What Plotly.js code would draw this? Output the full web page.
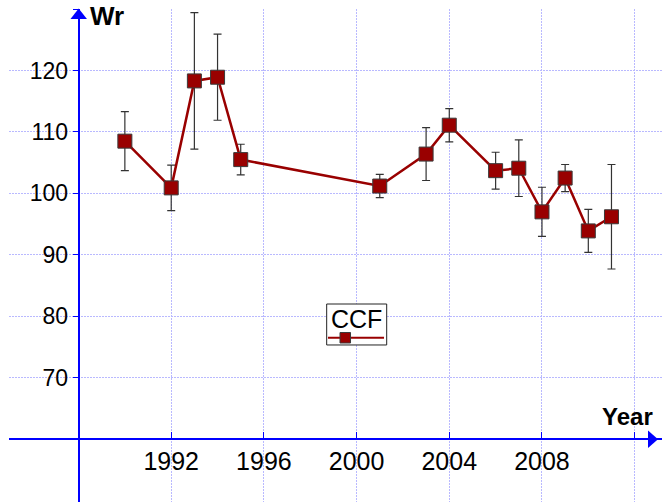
<!DOCTYPE html>
<html>
<head>
<meta charset="utf-8">
<script src="https://cdn.plot.ly/plotly-3.0.1.min.js"></script>
<style>html,body{margin:0;padding:0;background:#fff;}#chart{width:662px;height:502px;}</style>
</head>
<body>
<div id="chart"></div>
<script>
// Data
var years = [1990, 1992, 1993, 1994, 1995, 2001, 2003, 2004, 2006, 2007, 2008, 2009, 2010, 2011];
var wr    = [108.5, 100.9, 118.3, 118.9, 105.5, 101.2, 106.4, 111.1, 103.7, 104.1, 97.0, 102.5, 93.9, 96.2];
var wrErr = [4.8, 3.7, 11.1, 7.0, 2.5, 1.9, 4.3, 2.7, 3.0, 4.6, 4.0, 2.2, 3.5, 8.5];
var seriesName = 'CCF';

var xTickVals = [1988, 1992, 1996, 2000, 2004, 2008, 2012];
var xTickText = ['', '1992', '1996', '2000', '2004', '2008', ''];
var yTickVals = [60, 70, 80, 90, 100, 110, 120, 130];
var yTickText = ['', '70', '80', '90', '100', '110', '120', ''];

var FONT = 'Arial, "Liberation Sans", sans-serif';
var RED = '#990000';
var BLUE = '#0000ff';
var GRID = 'rgb(185,185,255)';

var trace = {
  x: years, y: wr, name: seriesName, type: 'scatter', mode: 'lines+markers',
  line: {color: RED, width: 2.5},
  marker: {symbol: 'square', size: 14, color: RED, line: {color: '#3a3a3a', width: 1}},
  error_y: {type: 'data', array: wrErr, visible: true, color: '#333333', thickness: 1.2, width: 4},
  showlegend: false
};

var layout = {
  width: 662, height: 502,
  margin: {l: 9, r: 0, t: 9, b: 0, pad: 0},
  paper_bgcolor: '#ffffff', plot_bgcolor: '#ffffff',
  showlegend: false,
  font: {family: FONT, color: '#000'},
  xaxis: {
    range: [1985.0, 2013.18], anchor: 'free', position: 0.1272,
    tickmode: 'array', tickvals: xTickVals, ticktext: xTickText,
    tickfont: {family: FONT, size: 25, color: '#000'},
    ticks: 'inside', ticklen: 6, tickcolor: BLUE, tickwidth: 1,
    showline: true, linecolor: BLUE, linewidth: 2,
    showgrid: true, gridcolor: GRID, griddash: '2px,1px', gridwidth: 1,
    zeroline: false, automargin: false
  },
  yaxis: {
    range: [49.8, 130.0], anchor: 'free', position: 0.1067,
    tickmode: 'array', tickvals: yTickVals, ticktext: yTickText,
    tickfont: {family: FONT, size: 23, color: '#000'},
    ticks: 'outside', ticklen: 5, tickcolor: BLUE, tickwidth: 1,
    showline: true, linecolor: BLUE, linewidth: 2,
    showgrid: true, gridcolor: GRID, griddash: '2px,1px', gridwidth: 1,
    zeroline: false, automargin: false
  },
  shapes: [
    // y axis arrowhead
    {type: 'path', xref: 'paper', yref: 'paper', layer: 'above',
     path: 'M 0.0942 0.9797 L 0.1067 1.001 L 0.1194 0.9797 Z',
     fillcolor: BLUE, line: {color: BLUE, width: 0}},
    // x axis arrowhead
    {type: 'path', xref: 'paper', yref: 'paper', layer: 'above',
     path: 'M 0.9786 0.145 L 0.9939 0.1272 L 0.9786 0.1095 Z',
     fillcolor: BLUE, line: {color: BLUE, width: 0}},
    // legend box
    {type: 'rect', xref: 'paper', yref: 'paper', layer: 'above',
     x0: 0.4865, x1: 0.5784, y0: 0.3185, y1: 0.4016,
     fillcolor: '#ffffff', line: {color: '#222222', width: 1}},
    // legend line
    {type: 'line', xref: 'paper', yref: 'paper', layer: 'above',
     x0: 0.4885, x1: 0.5743, y0: 0.3333, y1: 0.3333,
     line: {color: RED, width: 2}},
    // legend marker
    {type: 'rect', xref: 'paper', yref: 'paper', layer: 'above',
     x0: 0.5069, x1: 0.5230, y0: 0.3225, y1: 0.3438,
     fillcolor: RED, line: {color: '#3a3a3a', width: 1}}
  ],
  annotations: [
    {text: '<b>Wr</b>', xref: 'paper', yref: 'paper', x: 0.121, y: 0.985,
     xanchor: 'left', yanchor: 'middle', showarrow: false,
     font: {family: FONT, size: 26, color: '#000'}},
    {text: '<b>Year</b>', xref: 'paper', yref: 'paper', x: 0.9893, y: 0.173,
     xanchor: 'right', yanchor: 'middle', showarrow: false,
     font: {family: FONT, size: 24, color: '#000'}},
    {text: seriesName, xref: 'paper', yref: 'paper', x: 0.5314, y: 0.371,
     xanchor: 'center', yanchor: 'middle', showarrow: false,
     font: {family: FONT, size: 25, color: '#000'}}
  ]
};

Plotly.newPlot('chart', [trace], layout, {displayModeBar: false, staticPlot: true});
</script>
</body>
</html>
